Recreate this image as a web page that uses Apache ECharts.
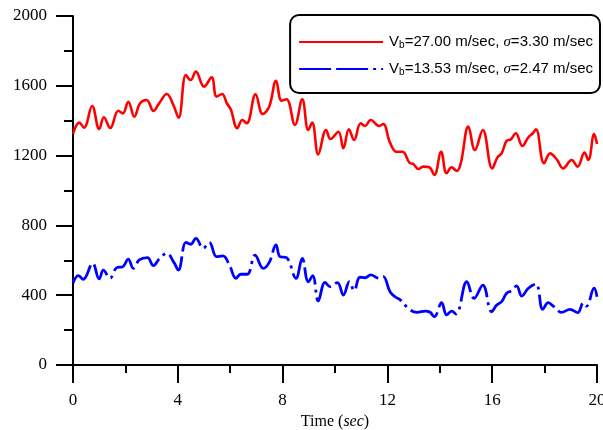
<!DOCTYPE html>
<html>
<head>
<meta charset="utf-8">
<script src="https://cdn.jsdelivr.net/npm/echarts@6/dist/echarts.min.js"></script>
<style>
  html, body { margin: 0; padding: 0; background: #fff; }
  #chart { width: 603px; height: 430px; }
</style>
</head>
<body>
<div id="chart"></div>
<script>
// Time axis ticks (sec) and amplitude ticks
const xTicks = [0, 4, 8, 12, 16, 20];
const yTicks = [0, 400, 800, 1200, 1600, 2000];

// Series 1: Vb = 27.00 m/sec
const redName = 'Vb=27.00 m/sec, sigma=3.30 m/sec';
const redTime = [0, 0.24, 0.42, 0.73, 1.0, 1.18, 1.42, 1.73, 1.9, 2.11, 2.34, 2.56, 2.81, 3.07, 3.29, 3.58, 3.83, 4.03,
  4.31, 4.49, 4.69, 5.0, 5.29, 5.48, 5.69, 5.87, 6.02, 6.27, 6.46, 6.63, 6.97, 7.24, 7.49, 7.75, 7.96, 8.15, 8.47,
  8.75, 8.98, 9.13, 9.36, 9.66, 9.83, 10.13, 10.32, 10.53, 10.73, 10.98, 11.15, 11.36, 11.69, 11.84, 12.1, 12.35,
  12.58, 12.84, 12.99, 13.18, 13.37, 13.6, 13.79, 14.05, 14.26, 14.45, 14.65, 14.8, 15.09, 15.34, 15.64, 16.0,
  16.2, 16.36, 16.55, 16.71, 16.9, 17.15, 17.38, 17.55, 17.67, 17.98, 18.21, 18.46, 18.71, 19.03, 19.26, 19.52,
  19.67, 19.89, 20.0];
const redValues = [1325, 1389, 1360, 1484, 1352, 1420, 1358, 1457, 1442, 1509, 1423, 1500, 1519, 1456, 1500, 1553, 1490, 1417,
  1662, 1633, 1681, 1595, 1648, 1538, 1553, 1500, 1465, 1357, 1404, 1385, 1551, 1438, 1481, 1629, 1515, 1523, 1376,
  1523, 1347, 1389, 1207, 1347, 1295, 1337, 1242, 1351, 1289, 1385, 1370, 1404, 1370, 1381, 1274, 1222,
  1222, 1159, 1152, 1123, 1137, 1133, 1089, 1222, 1099, 1133, 1112, 1156, 1366, 1232, 1347, 1127,
  1190, 1213, 1285, 1293, 1328, 1255, 1305, 1328, 1351, 1156, 1213, 1179, 1127, 1175, 1137, 1217,
  1175, 1324, 1267];

// Series 2: Vb = 13.53 m/sec
const blueName = 'Vb=13.53 m/sec, sigma=2.47 m/sec';
const blueTime = [0, 0.2, 0.39, 0.75, 1.0, 1.16, 1.41, 1.67, 1.9, 2.11, 2.3, 2.53, 2.84, 3.07, 3.29, 3.58, 3.85, 4.02,
  4.31, 4.49, 4.69, 4.97, 5.2, 5.48, 5.72, 5.97, 6.22, 6.4, 6.65, 6.95, 7.26, 7.49, 7.75, 7.9, 8.15, 8.51, 8.75,
  8.98, 9.15, 9.36, 9.62, 9.81, 10.09, 10.32, 10.55, 10.73, 10.95, 11.15, 11.36, 11.69, 11.84, 12.1, 12.29, 12.5,
  12.84, 13.14, 13.44, 13.63, 13.79, 14.07, 14.26, 14.45, 14.62, 15.03, 15.31, 15.64, 15.98, 16.17, 16.36, 16.55,
  16.74, 16.93, 17.13, 17.38, 17.67, 17.93, 18.14, 18.36, 18.65, 18.97, 19.26, 19.48, 19.6, 19.89, 20.0];
const blueValues = [468, 512, 491, 583, 493, 544, 497, 558, 563, 607, 554, 602, 615, 569, 607, 640, 588, 544,
  703, 692, 726, 669, 703, 621, 625, 573, 497, 520, 520, 630, 554, 588, 688, 621, 615, 497, 611,
  477, 512, 367, 474, 449, 472, 401, 477, 426, 503, 500, 516, 497, 506, 420, 391, 372,
  319, 302, 309, 302, 277, 357, 287, 309, 292, 477, 382, 458, 305, 344, 363, 411,
  426, 453, 395, 440, 464, 319, 357, 334, 302, 319, 300, 357, 338, 440, 391];

const pairs = (ts, vs) => ts.map((t, i) => [t, vs[i]]);

const legendLabels = {};
legendLabels[redName] = '{v|V}{s|b}{v|=27.00 m/sec, }{g|σ}{v|=3.30 m/sec}';
legendLabels[blueName] = '{v|V}{s|b}{v|=13.53 m/sec, }{g|σ}{v|=2.47 m/sec}';

const serif = '"Liberation Serif", "Times New Roman", serif';
const sans = '"Liberation Sans", Arial, sans-serif';

const chart = echarts.init(document.getElementById('chart'));
chart.setOption({
  animation: false,
  backgroundColor: '#fff',
  grid: { left: 73, right: 6, top: 16, bottom: 65, outerBoundsMode: 'none', containLabel: false },
  legend: {
    orient: 'vertical',
    right: 3, top: 15,
    padding: [19, 7, 16, 8],
    itemGap: 11,
    itemWidth: 84, itemHeight: 14,
    borderColor: '#000', borderWidth: 2, borderRadius: 9,
    backgroundColor: '#fff',
    itemStyle: { opacity: 0 },
    data: [redName, blueName],
    formatter: name => legendLabels[name],
    textStyle: {
      padding: [0, 0, 0, 1],
      rich: {
        v: { fontFamily: sans, fontSize: 15, color: '#000', lineHeight: 16 },
        s: { fontFamily: sans, fontSize: 10, color: '#000', lineHeight: 16, verticalAlign: 'bottom', padding: [6, 0, 0, 0] },
        g: { fontFamily: serif, fontStyle: 'italic', fontSize: 15, color: '#000', lineHeight: 16 }
      }
    }
  },
  xAxis: {
    type: 'value', min: 0, max: 20, interval: 4,
    name: '{a|Time (}{b|sec}{a|)}',
    nameLocation: 'middle', nameGap: 45,
    nameTextStyle: {
      rich: {
        a: { fontFamily: serif, fontSize: 16, color: '#000' },
        b: { fontFamily: serif, fontSize: 16, fontStyle: 'italic', color: '#000' }
      }
    },
    axisLine: { onZero: false, lineStyle: { color: '#000', width: 2 } },
    axisTick: { inside: false, length: 18, lineStyle: { color: '#000', width: 2 } },
    minorTick: { show: true, splitNumber: 2, length: 8, lineStyle: { color: '#000', width: 2 } },
    splitLine: { show: false },
    axisLabel: {
      margin: 27, color: '#000', fontFamily: serif, fontSize: 17,
      formatter: v => xTicks.includes(v) ? String(v) : ''
    }
  },
  yAxis: {
    type: 'value', min: 0, max: 2000, interval: 400,
    axisLine: { show: true, onZero: false, lineStyle: { color: '#000', width: 2 } },
    axisTick: { show: true, inside: false, length: 17, lineStyle: { color: '#000', width: 2 } },
    minorTick: { show: true, splitNumber: 2, length: 9, lineStyle: { color: '#000', width: 2 } },
    splitLine: { show: false },
    axisLabel: {
      margin: 26, color: '#000', fontFamily: serif, fontSize: 17,
      formatter: v => yTicks.includes(v) ? String(v) : ''
    }
  },
  series: [
    {
      name: redName, type: 'line', data: pairs(redTime, redValues),
      smooth: 0.4, symbol: 'none', color: '#ff0000',
      lineStyle: { color: '#ff0000', width: 2.6 }
    },
    {
      name: blueName, type: 'line', data: pairs(blueTime, blueValues),
      smooth: 0.4, symbol: 'none', color: '#0000ff',
      lineStyle: { color: '#0000ff', width: 2.8, type: [32, 5, 32, 5, 3, 5] }
    }
  ]
});
</script>
</body>
</html>
